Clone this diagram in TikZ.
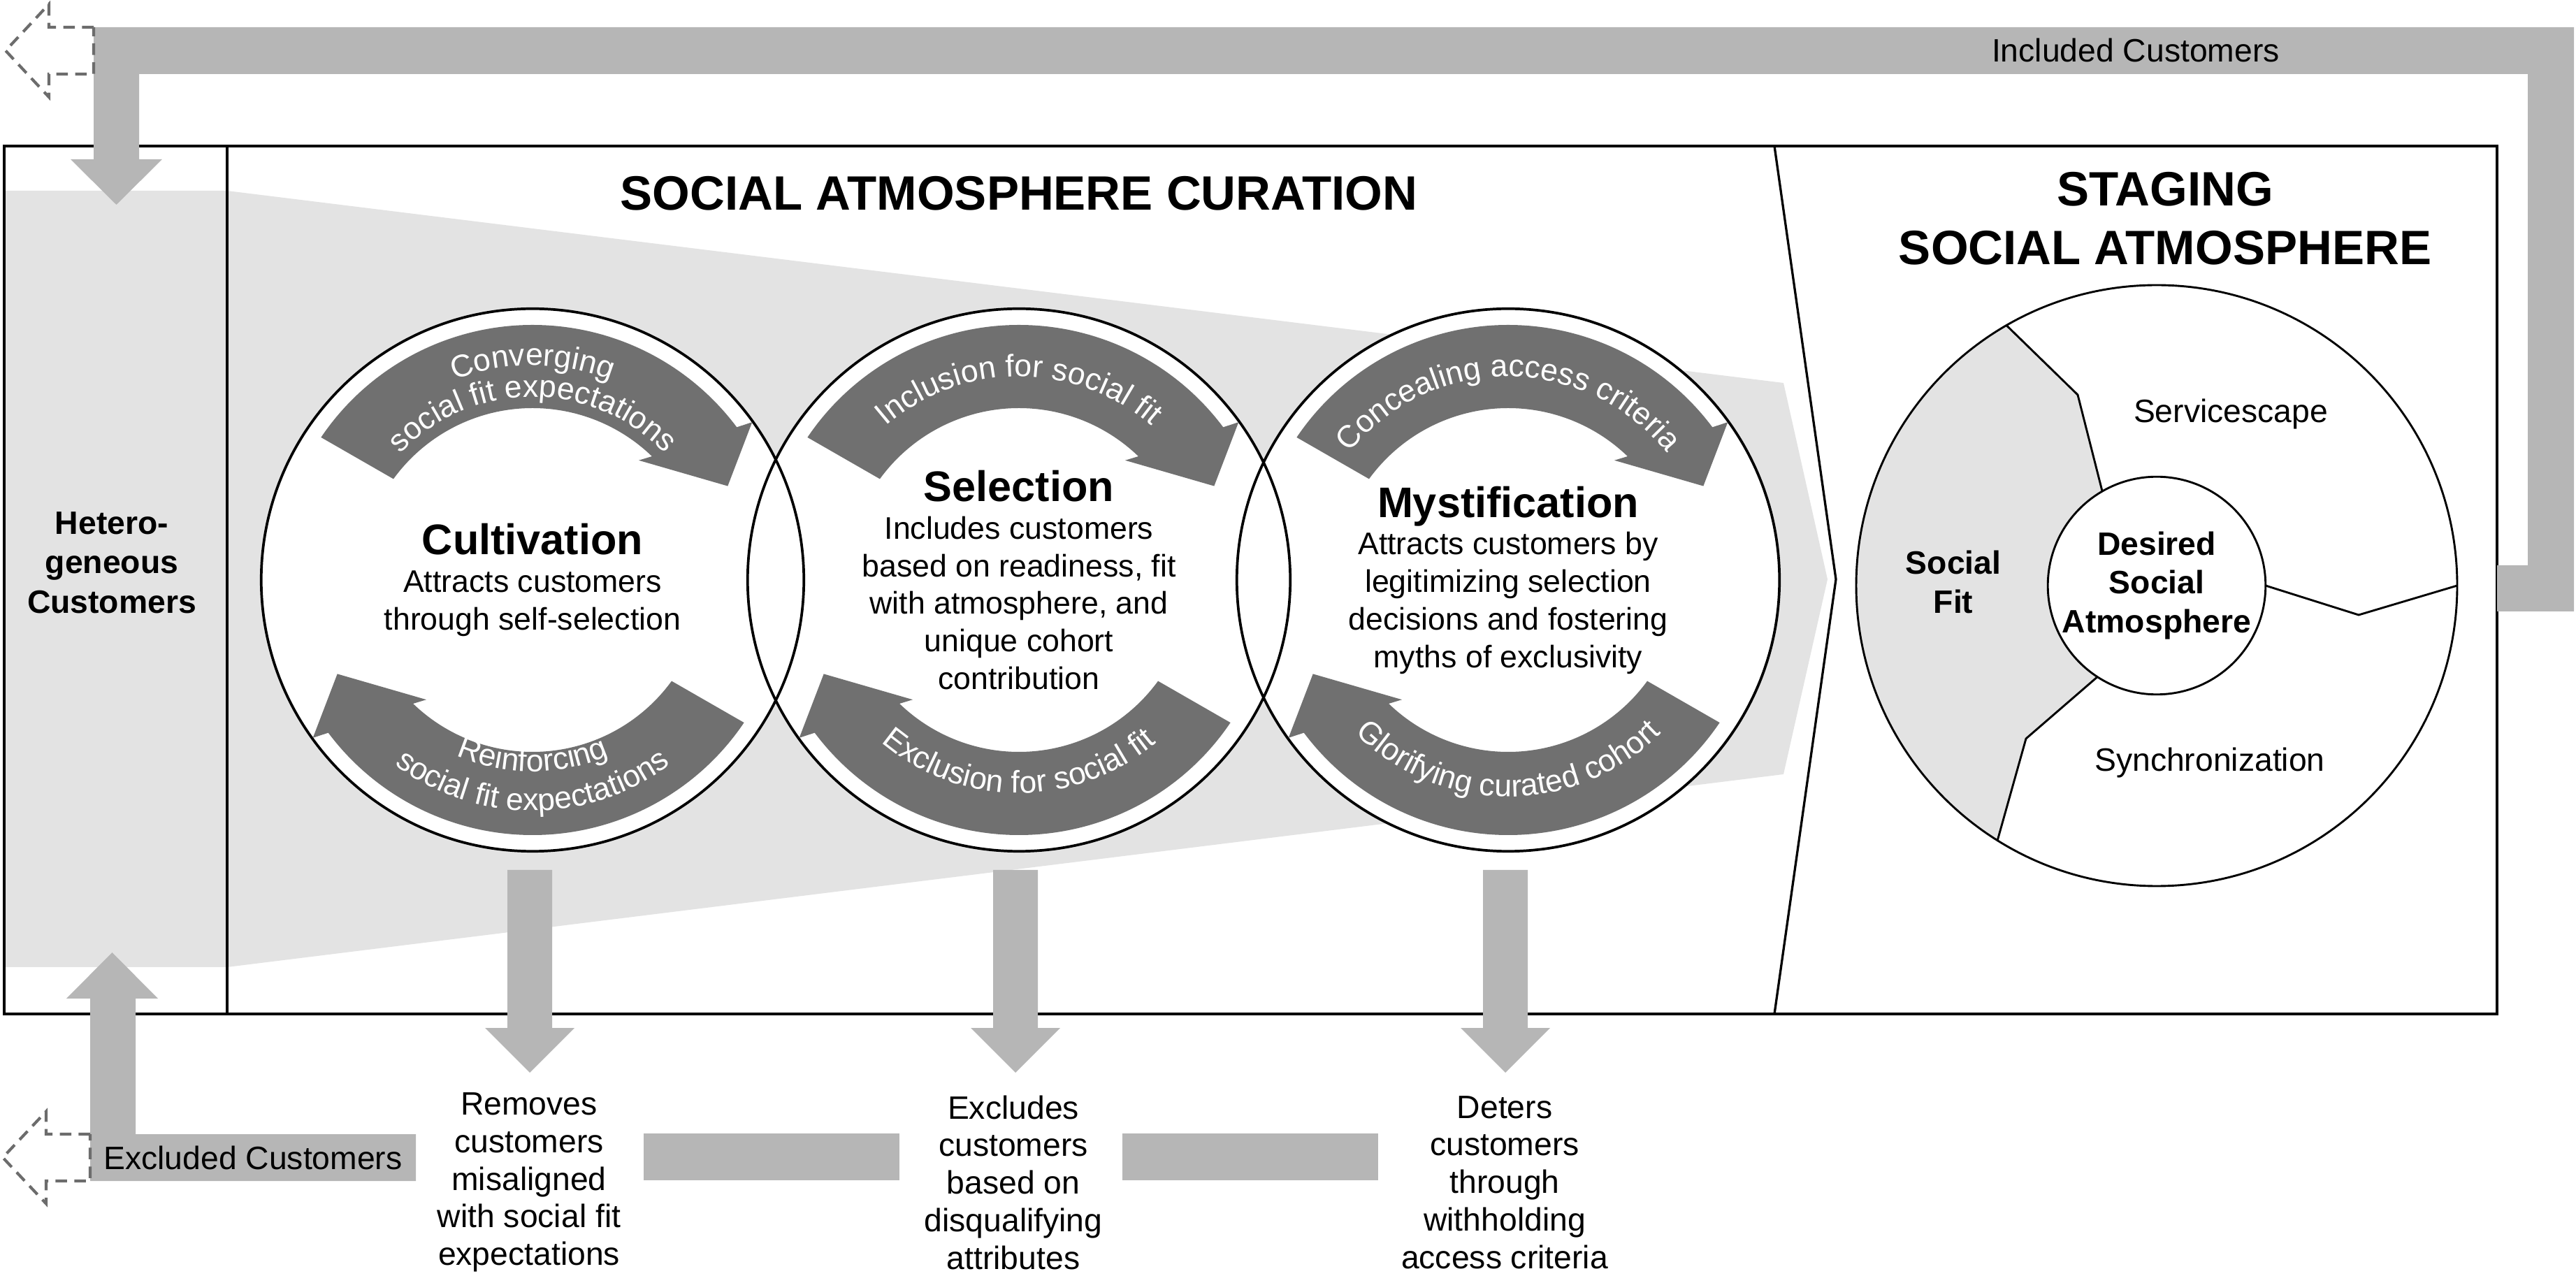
\documentclass[tikz,border=0pt]{standalone}
\usepackage{fontspec}
\setmainfont{Liberation Sans}
\usetikzlibrary{decorations.text}

\definecolor{fnlgray}{RGB}{227,227,227}
\definecolor{bandgray}{RGB}{182,182,182}
\definecolor{arrowgray}{RGB}{112,112,112}
\definecolor{dashgray}{RGB}{108,108,108}

\newcommand{\arcfont}{\fontsize{10.8}{13}\selectfont\color{white}}
\newcommand{\phasehead}[1]{{\fontsize{14.8}{17}\selectfont\bfseries #1}}

% curved block arrow inside a phase circle (rotate 180 for the lower one)
\newcommand{\bendarrow}[2]{%
  \begin{scope}[shift={(#1)},rotate=#2]
    \fill[arrowgray] (146:3.65) arc[start angle=146,end angle=36.8,radius=3.65]
      -- (35.7:3.87) -- (25.7:3.10) -- (48.4:2.29) -- (46.0:2.46)
      arc[start angle=46.0,end angle=144,radius=2.46] -- cycle;
  \end{scope}}

% grey block arrow going down to the exclusion texts
\newcommand{\dropblock}[1]{%
  \fill[bandgray] (#1-0.32,5.80) -- (#1+0.32,5.80) -- (#1+0.32,3.54) -- (#1+0.64,3.54)
    -- (#1,2.90) -- (#1-0.64,3.54) -- (#1-0.32,3.54) -- cycle;}

\begin{document}
\begin{tikzpicture}[x=0.85cm,y=0.85cm,
    boxline/.style={line width=1pt},
    phase/.style={circle,draw,line width=0.9pt,minimum size=6.6cm,inner sep=0pt,outer sep=0pt,
      align=center,font=\fontsize{10.8}{13}\selectfont},
    wheelpart/.style={circle,draw,line width=0.7pt,inner sep=0pt,outer sep=0pt},
    plaintext/.style={align=center,font=\fontsize{11.2}{13}\selectfont},
    boldtext/.style={align=center,font=\fontsize{11.2}{13.7}\selectfont\bfseries},
    titletext/.style={align=center,font=\fontsize{16.7}{20.2}\selectfont\bfseries},
    arctext/.style={decorate,decoration={text along path,text align=center,text={|\arcfont|#1}}},
    dashout/.style={dashgray,line width=1pt,dash pattern=on 4pt off 2.5pt}]
  \useasboundingbox (0,0) rectangle (36.86,18.25);

  % funnel of customers
  \fill[fnlgray] (0.06,15.52) -- (3.25,15.52) -- (25.52,12.77) -- (26.15,9.96) -- (25.52,7.17)
    -- (3.25,4.41) -- (0.06,4.41) -- cycle;

  % frame
  \draw[boxline] (0.06,3.74) rectangle (35.73,16.16);
  \draw[boxline] (3.25,3.74) -- (3.25,16.16);
  \draw[line width=0.8pt] (25.39,16.16) -- (26.27,9.96) -- (25.39,3.74);

  \node[titletext] (curation) at (14.58,15.48) {SOCIAL ATMOSPHERE CURATION};
  \node[titletext] (staging) at (30.98,15.12) {STAGING\\SOCIAL ATMOSPHERE};
  \node[boldtext] (hetero) at (1.60,10.20) {Hetero-\\geneous\\Customers};

  % the three phases
  \fill[white] (7.62,9.95) circle (3.88) (14.58,9.95) circle (3.88) (21.58,9.95) circle (3.88);
  \node[phase] (cult) at (7.62,9.95) {\phasehead{Cultivation}\\Attracts customers\\through self-selection};
  \node[phase] (sel) at (14.58,9.95) {\phasehead{Selection}\\Includes customers\\based on readiness, fit\\with atmosphere, and\\unique cohort\\contribution};
  \node[phase] (myst) at (21.58,9.95) {\phasehead{Mystification}\\Attracts customers by\\legitimizing selection\\decisions and fostering\\myths of exclusivity};

  \bendarrow{cult.center}{0}
  \bendarrow{cult.center}{180}
  \bendarrow{sel.center}{0}
  \bendarrow{sel.center}{180}
  \bendarrow{myst.center}{0}
  \bendarrow{myst.center}{180}

  \begin{scope}[shift={(cult.center)}]
    \path[arctext=Converging] (170:3.07) arc[start angle=170,end angle=10,radius=3.07];
    \path[arctext=social fit expectations] (175:2.62) arc[start angle=175,end angle=5,radius=2.62];
    \path[arctext=Reinforcing] (190:2.74) arc[start angle=190,end angle=350,radius=2.74];
    \path[arctext=social fit expectations] (185:3.30) arc[start angle=185,end angle=355,radius=3.30];
  \end{scope}
  \begin{scope}[shift={(sel.center)}]
    \path[arctext=Inclusion for social fit] (175:2.91) arc[start angle=175,end angle=5,radius=2.91];
    \path[arctext=Exclusion for social fit] (185:3.05) arc[start angle=185,end angle=355,radius=3.05];
  \end{scope}
  \begin{scope}[shift={(myst.center)}]
    \path[arctext=Concealing access criteria] (178:2.91) arc[start angle=178,end angle=2,radius=2.91];
    \path[arctext=Glorifying curated cohort] (185:3.10) arc[start angle=185,end angle=355,radius=3.10];
  \end{scope}

  % staging wheel
  \begin{scope}[shift={(30.86,9.87)}]
    \fill[fnlgray] (120:4.30) arc[start angle=120,end angle=238,radius=4.30] -- (-1.87,-2.19)
      -- (237:1.55) arc[start angle=237,end angle=120,radius=1.55] -- (-1.13,2.73) -- cycle;
  \end{scope}
  \node[wheelpart,minimum size=7.31cm] (wheel) at (30.86,9.87) {};
  \node[wheelpart,minimum size=2.635cm,align=center,font=\fontsize{11.2}{13.5}\selectfont\bfseries] (desired) at (30.86,9.87) {Desired\\Social\\Atmosphere};
  \draw[line width=0.7pt] (desired.120) -- (29.73,12.60) -- (wheel.120);
  \draw[line width=0.7pt] (desired.237) -- (28.99,7.68) -- (wheel.238);
  \draw[line width=0.7pt] (desired.0) -- (33.75,9.45) -- (wheel.0);
  \node[boldtext] (fit) at (27.95,9.92) {Social\\Fit};
  \node[plaintext] (scape) at (31.92,12.32) {Servicescape};
  \node[plaintext] (sync) at (31.62,7.33) {Synchronization};

  % included customers loop
  \fill[bandgray] (35.73,10.16) -- (36.17,10.16) -- (36.17,17.19) -- (1.99,17.19) -- (1.99,15.97)
    -- (2.32,15.97) -- (1.665,15.32) -- (1.01,15.97) -- (1.34,15.97) -- (1.34,17.86)
    -- (36.83,17.86) -- (36.83,9.50) -- (35.73,9.50) -- cycle;
  \draw[dashout] (1.34,17.86) -- (0.70,17.86) -- (0.70,18.19) -- (0.08,17.525) -- (0.70,16.86)
    -- (0.70,17.19) -- (1.34,17.19) -- cycle;
  \node[plaintext] (incl) at (30.56,17.53) {Included Customers};

  % excluded customers
  \dropblock{7.58}
  \dropblock{14.53}
  \dropblock{21.54}
  \fill[bandgray] (1.29,1.35) -- (1.29,3.96) -- (0.95,3.96) -- (1.605,4.62) -- (2.26,3.96)
    -- (1.94,3.96) -- (1.94,2.02) -- (5.95,2.02) -- (5.95,1.35) -- cycle;
  \fill[bandgray] (9.21,1.36) rectangle (12.87,2.03);
  \fill[bandgray] (16.06,1.36) rectangle (19.72,2.03);
  \draw[dashout] (1.29,2.02) -- (0.66,2.02) -- (0.66,2.345) -- (0.04,1.685) -- (0.66,1.025)
    -- (0.66,1.35) -- (1.29,1.35) -- cycle;
  \node[plaintext] (excl) at (3.62,1.68) {Excluded Customers};

  \node[plaintext] (remove) at (7.57,1.33) {Removes\\customers\\misaligned\\with social fit\\expectations};
  \node[plaintext] (exclude) at (14.50,1.33) {Excludes\\customers\\based on\\disqualifying\\attributes};
  \node[plaintext] (deter) at (21.53,1.33) {Deters\\customers\\through\\withholding\\access criteria};
\end{tikzpicture}
\end{document}
